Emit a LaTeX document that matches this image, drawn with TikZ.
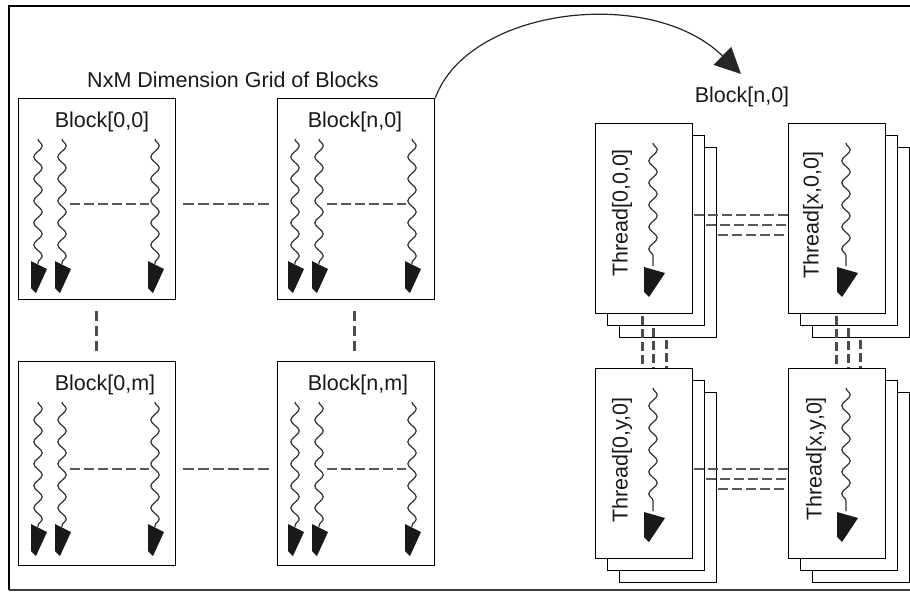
\documentclass[tikz,border=0pt]{standalone}
\usepackage{fontspec}
\setmainfont{Liberation Sans}
\usetikzlibrary{decorations.pathmorphing,arrows.meta}
\begin{document}
\begin{tikzpicture}[x=1pt,y=-1pt,
  box/.style={draw=black, line width=1.3pt, fill=white, inner sep=0pt, anchor=north west},
  blockbox/.style={box, minimum width=157pt},
  thrbox/.style={box, minimum width=97pt, minimum height=190pt},
  lbl/.style={font=\fontsize{21.5}{25}\selectfont, text=black!90, inner sep=0pt},
  wave/.style={draw=black!80, line width=1.2pt, decorate, decoration={snake, segment length=22pt, amplitude=4.2pt}},
  tipfill/.style={fill=black!90},
  dashh/.style={draw=black!65, line width=2pt, dash pattern=on 10pt off 4pt},
  dashv/.style={draw=black!70, line width=3pt, dash pattern=on 10pt off 5pt},
  tdashv/.style={draw=black!70, line width=3pt, dash pattern=on 9pt off 4pt},
  blockthreads/.pic={
    \foreach \tx in {20,44,137}{
      \draw[wave] (\tx,41) -- (\tx,166);
      \fill[tipfill] (\tx-7,163) -- (\tx+9,171) -- (\tx-2,195) -- (\tx-7,190) -- cycle;
    }
  },
  onethread/.pic={
    \draw[wave] (58,20) -- (58,143);
    \fill[tipfill] (49,144) -- (70,150) -- (54,174) -- (49,169) -- cycle;
  }
]
\useasboundingbox (0,0) rectangle (910,592);
% outer frame
\draw[line width=1.5pt, black] (911,6) -- (9,6) -- (9,590);
\draw[line width=1.2pt, black!75] (9,590) -- (911,590);

% title
\node[lbl] (title) at (233,80) {NxM Dimension Grid of Blocks};

% blocks
\node[blockbox, minimum height=201pt] (b00) at (18,98) {};
\node[blockbox, minimum height=201pt] (bn0) at (277,98) {};
\node[blockbox, minimum height=204pt] (b0m) at (18,361) {};
\node[blockbox, minimum height=204pt] (bnm) at (277,361) {};

\node[lbl] (lb00) at (102,122) {Block[0,0]};
\node[lbl] (lbn0) at (355,122) {Block[n,0]};
\node[lbl] (lb0m) at (105,385) {Block[0,m]};
\node[lbl] (lbnm) at (358,385) {Block[n,m]};

\pic at (18,98) {blockthreads};
\pic at (275,98) {blockthreads};
\pic at (18,361) {blockthreads};
\pic at (275,361) {blockthreads};

% dashes inside blocks
\draw[dashh] ([shift={(52,106)}]b00.north west) -- ([shift={(131,106)}]b00.north west);
\draw[dashh] ([shift={(50,106)}]bn0.north west) -- ([shift={(129,106)}]bn0.north west);
\draw[dashh] ([shift={(52,108)}]b0m.north west) -- ([shift={(131,108)}]b0m.north west);
\draw[dashh] ([shift={(50,108)}]bnm.north west) -- ([shift={(129,108)}]bnm.north west);
% dashes between blocks
\draw[dashh, dash pattern=on 11pt off 4pt] ([shift={(7,106)}]b00.north east) -- ([shift={(-5,106)}]bn0.north west);
\draw[dashh, dash pattern=on 11pt off 4pt] ([shift={(7,108)}]b0m.north east) -- ([shift={(-5,108)}]bnm.north west);
\draw[dashv] ([shift={(78,11)}]b00.south west) -- ([shift={(78,-9)}]b0m.north west);
\draw[dashv] ([shift={(77,11)}]bn0.south west) -- ([shift={(77,-9)}]bnm.north west);

% curved arrow
\coordinate (arrtip) at (741,74);
\draw[line width=1.2pt, black!85, -{Triangle[length=26pt,width=25pt]}] (bn0.north east) .. controls (468,8) and (650,-15) .. (arrtip);
\node[lbl] (lblk) at (742,97) {Block[n,0]};

% thread stacks: back to front
\foreach \sx/\sy/\nm in {595/123/A, 788/123/B, 595/368/C, 788/368/D}{
  \node[thrbox] (t\nm3) at (\sx+24,\sy+24) {};
  \node[thrbox] (t\nm2) at (\sx+12,\sy+12) {};
  \node[thrbox] (t\nm1) at (\sx,\sy) {};
  \pic at (\sx,\sy) {onethread};
}
\node[lbl, rotate=90] (lA) at (622,213) {Thread[0,0,0]};
\node[lbl, rotate=90] (lB) at (813,215) {Thread[x,0,0]};
\node[lbl, rotate=90] (lC) at (622,460) {Thread[0,y,0]};
\node[lbl, rotate=90] (lD) at (816,459) {Thread[x,y,0]};

% horizontal dashes between thread stacks
\draw[dashh] ([shift={(1,92)}]tA1.north east) -- ([shift={(0,92)}]tB1.north west);
\draw[dashh] ([shift={(1,90)}]tA2.north east) -- ([shift={(0,102)}]tB1.north west);
\draw[dashh] ([shift={(1,88)}]tA3.north east) -- ([shift={(0,112)}]tB1.north west);
\draw[dashh] ([shift={(1,101)}]tC1.north east) -- ([shift={(0,101)}]tD1.north west);
\draw[dashh] ([shift={(1,99)}]tC2.north east) -- ([shift={(0,111)}]tD1.north west);
\draw[dashh] ([shift={(1,97)}]tC3.north east) -- ([shift={(0,121)}]tD1.north west);
% vertical dashes between thread stacks
\draw[tdashv] ([shift={(47,2)}]tA1.south west) -- ([shift={(47,0)}]tC1.north west);
\draw[tdashv] ([shift={(46,2)}]tA2.south west) -- ([shift={(58,0)}]tC1.north west);
\draw[tdashv] ([shift={(47,2)}]tA3.south west) -- ([shift={(71,0)}]tC1.north west);
\draw[tdashv] ([shift={(48,2)}]tB1.south west) -- ([shift={(48,0)}]tD1.north west);
\draw[tdashv] ([shift={(48,2)}]tB2.south west) -- ([shift={(60,0)}]tD1.north west);
\draw[tdashv] ([shift={(48,2)}]tB3.south west) -- ([shift={(72,0)}]tD1.north west);
\end{tikzpicture}
\end{document}
